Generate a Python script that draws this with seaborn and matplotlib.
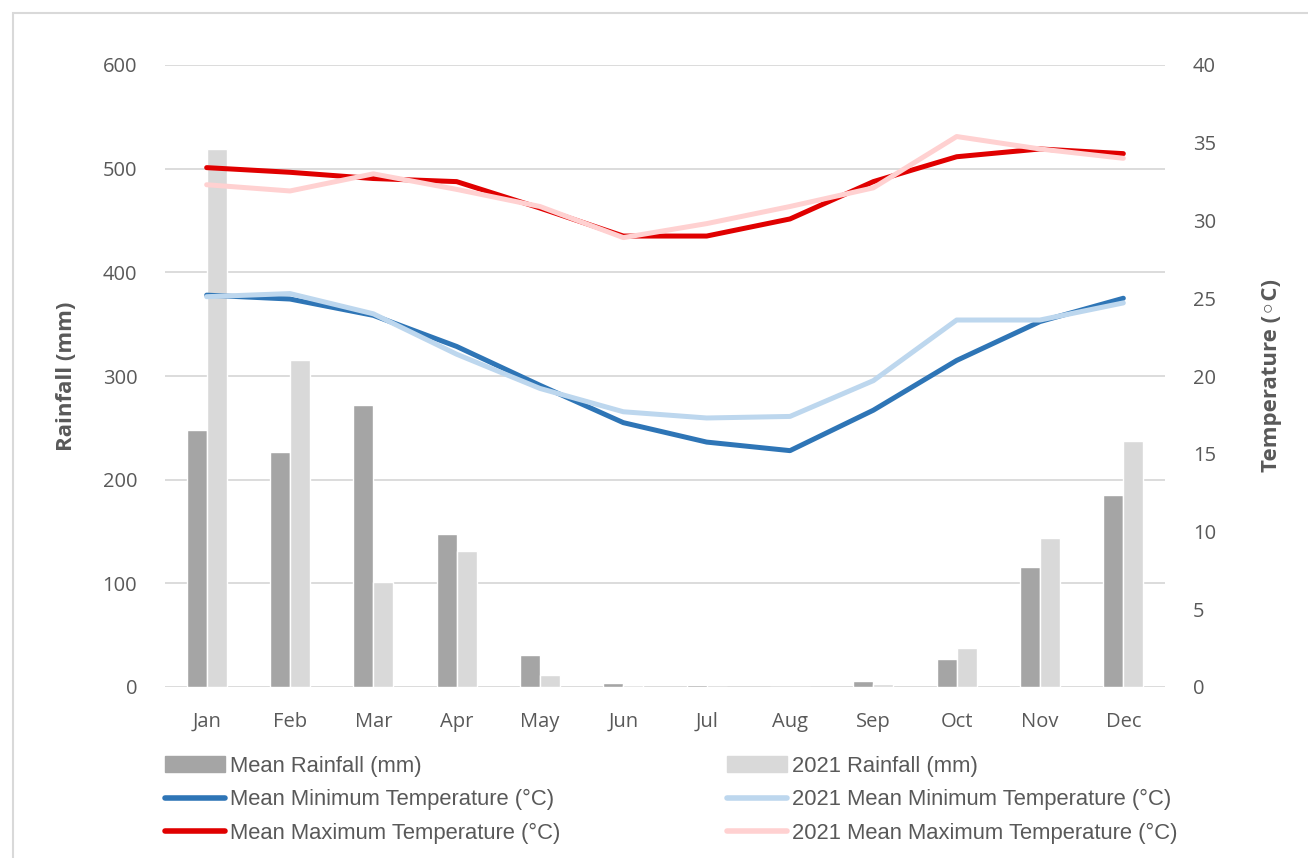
import numpy as np
import pandas as pd
import matplotlib.pyplot as plt
import matplotlib.patches as mpatches
from matplotlib.lines import Line2D
import seaborn as sns

months = ['Jan', 'Feb', 'Mar', 'Apr', 'May', 'Jun', 'Jul', 'Aug', 'Sep', 'Oct', 'Nov', 'Dec']
mean_rain = [248, 227, 272, 148, 31, 4, 2, 0, 6, 27, 116, 185]
rain_2021 = [519, 315, 101, 131, 12, 2, 0, 0, 3, 38, 144, 237]
mean_tmax = [33.4, 33.1, 32.7, 32.5, 30.8, 29.0, 29.0, 30.1, 32.5, 34.1, 34.6, 34.3]
tmax_2021 = [32.3, 31.9, 33.0, 32.0, 30.9, 28.9, 29.8, 30.9, 32.1, 35.4, 34.6, 34.0]
mean_tmin = [25.2, 24.95, 23.9, 21.9, 19.4, 17.0, 15.75, 15.2, 17.8, 21.0, 23.5, 25.0]
tmin_2021 = [25.1, 25.3, 24.0, 21.4, 19.2, 17.7, 17.3, 17.4, 19.7, 23.6, 23.6, 24.7]

rain_labels = ['Mean Rainfall (mm)', '2021 Rainfall (mm)']
temp_labels = ['Mean Minimum Temperature (°C)', '2021 Mean Minimum Temperature (°C)',
               'Mean Maximum Temperature (°C)', '2021 Mean Maximum Temperature (°C)']
rain_colors = ['#A5A5A5', '#D9D9D9']
temp_colors = ['#2E75B6', '#BDD7EE', '#E00000', '#FFD1D1']

rain_df = pd.DataFrame({'month': months * 2,
                        'rain': mean_rain + rain_2021,
                        'series': [rain_labels[0]] * 12 + [rain_labels[1]] * 12})

sns.set_theme(style='white')
plt.rcParams['font.family'] = ['Open Sans', 'DejaVu Sans']
grey = '#595959'

fig = plt.figure(figsize=(13.08, 8.58), dpi=100)
ax = fig.add_axes([165 / 1308, 1 - 687 / 858, 1000 / 1308, 622 / 858])

# outer chart border
fig.patches.append(mpatches.Rectangle((13 / 1308, -0.1), 1.2, 1.1 - 13 / 858,
                                      transform=fig.transFigure, fill=False,
                                      edgecolor='#D9D9D9', linewidth=1.5))

sns.barplot(data=rain_df, x='month', y='rain', hue='series', order=months,
            palette=rain_colors, width=0.48, gap=0, ax=ax, legend=False,
            saturation=1)
ax.set_ylim(0, 600)
ax.set_xlim(-0.5, 11.5)
ax.set_yticks(range(0, 601, 100))
ax.grid(axis='y', color='#D9D9D9', linewidth=1.3)
ax.set_axisbelow(True)
for s in ax.spines.values():
    s.set_visible(False)
ax.tick_params(axis='both', length=0, labelsize=14.5, colors=grey)
ax.tick_params(axis='y', pad=20)
ax.tick_params(axis='x', pad=18)
ax.set_xlabel('')
ax.set_ylabel('Rainfall (mm)', fontsize=16, fontweight='bold', color=grey)
ax.yaxis.set_label_coords(-0.088, 0.5)

ax2 = ax.twinx()
xpos = np.arange(len(months))
for vals, col in zip([mean_tmin, tmin_2021, mean_tmax, tmax_2021], temp_colors):
    sns.lineplot(x=xpos, y=vals, color=col, linewidth=3.6, ax=ax2,
                 solid_capstyle='round', solid_joinstyle='round')
ax2.set_ylim(0, 40)
ax2.set_yticks(range(0, 41, 5))
ax2.grid(False)
for s in ax2.spines.values():
    s.set_visible(False)
ax2.tick_params(axis='y', length=0, labelsize=14.5, colors=grey, pad=20)
ax2.set_ylabel('Temperature (◦C)', fontsize=16, fontweight='bold', color=grey)
ax2.yaxis.set_label_coords(1.096, 0.5)
ax2.set_xlim(-0.5, 11.5)

# legend in two columns below the plot
leg_font = {'family': ['Liberation Sans Narrow', 'Liberation Sans', 'DejaVu Sans'], 'size': 15.8}
left_handles = [mpatches.Patch(color=rain_colors[0]),
                Line2D([], [], color=temp_colors[0], lw=4, solid_capstyle='round'),
                Line2D([], [], color=temp_colors[2], lw=4, solid_capstyle='round')]
right_handles = [mpatches.Patch(color=rain_colors[1]),
                 Line2D([], [], color=temp_colors[1], lw=4, solid_capstyle='round'),
                 Line2D([], [], color=temp_colors[3], lw=4, solid_capstyle='round')]
leg_kw = dict(frameon=False, prop=leg_font, handlelength=2.75, handleheight=0.75,
              handletextpad=0.2, labelspacing=0.56, borderaxespad=0, borderpad=0,
              loc='upper left', labelcolor=grey)
leg1 = fig.legend(left_handles, [rain_labels[0], temp_labels[0], temp_labels[2]],
                  bbox_to_anchor=(165 / 1308, 1 - 756 / 858), **leg_kw)
leg2 = fig.legend(right_handles, [rain_labels[1], temp_labels[1], temp_labels[3]],
                  bbox_to_anchor=(727 / 1308, 1 - 756 / 858), **leg_kw)

fig.savefig('out.png', dpi=100)
